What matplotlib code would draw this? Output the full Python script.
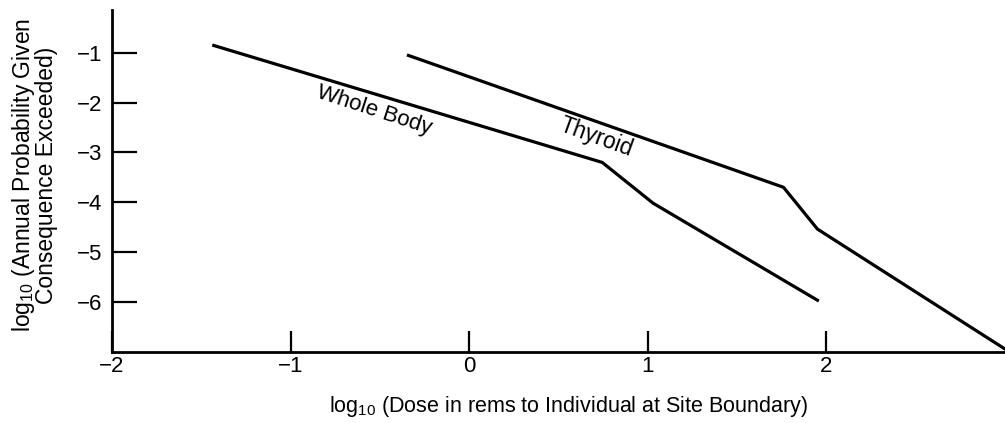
import matplotlib
matplotlib.use("Agg")
import matplotlib.pyplot as plt

plt.rcParams["font.family"] = ["Liberation Sans", "DejaVu Sans"]
plt.rcParams["mathtext.fontset"] = "custom"
plt.rcParams["mathtext.rm"] = "Liberation Sans"
plt.rcParams["mathtext.it"] = "Liberation Sans:italic"

# curves (log10 dose, log10 annual probability)
whole_body_x = [-1.43, 0.745, 1.03, 1.95]
whole_body_y = [-0.85, -3.20, -4.02, -5.97]
thyroid_x = [-0.34, 1.76, 1.95, 3.0]
thyroid_y = [-1.05, -3.70, -4.54, -6.95]

x_ticks = [-2, -1, 0, 1, 2]
y_ticks = [-1, -2, -3, -4, -5, -6]

fig = plt.figure(figsize=(10.05, 4.23), dpi=100)
ax = fig.add_axes([0.1114, 0.169, 0.8886, 0.807])

ax.plot(whole_body_x, whole_body_y, color="black", lw=2.3, clip_on=False)
ax.plot(thyroid_x, thyroid_y, color="black", lw=2.3, clip_on=False)

ax.text(-0.53, -2.15, "Whole Body", rotation=-18, rotation_mode="anchor",
        ha="center", va="center", fontsize=16)
ax.text(0.71, -2.69, "Thyroid", rotation=-20, rotation_mode="anchor",
        ha="center", va="center", fontsize=16.5)

ax.set_xlim(-2, 3.0)
ax.set_ylim(-7, -0.14)
ax.set_xticks(x_ticks)
ax.set_xticklabels(["\u22122", "\u22121", "0", "1", "2"])
ax.set_yticks(y_ticks)
ax.set_yticklabels(["\u2212%d" % -v for v in y_ticks])

for s in ["top", "right"]:
    ax.spines[s].set_visible(False)
for s in ["left", "bottom"]:
    ax.spines[s].set_linewidth(2.0)

ax.tick_params(axis="y", direction="in", length=18, width=1.6, pad=7, labelsize=16)
ax.tick_params(axis="x", direction="in", length=15, width=1.6, pad=3, labelsize=16)

ax.set_xlabel(r"log$_{10}$ (Dose in rems to Individual at Site Boundary)",
              fontsize=15.5)
ax.xaxis.set_label_coords(0.511, -0.125)
ax.set_ylabel("log$_{10}$ (Annual Probability Given\nConsequence Exceeded)",
              fontsize=16.5, linespacing=0.93)
ax.yaxis.set_label_coords(-0.060, 0.517)

fig.savefig("out.png", dpi=100, facecolor="white")
